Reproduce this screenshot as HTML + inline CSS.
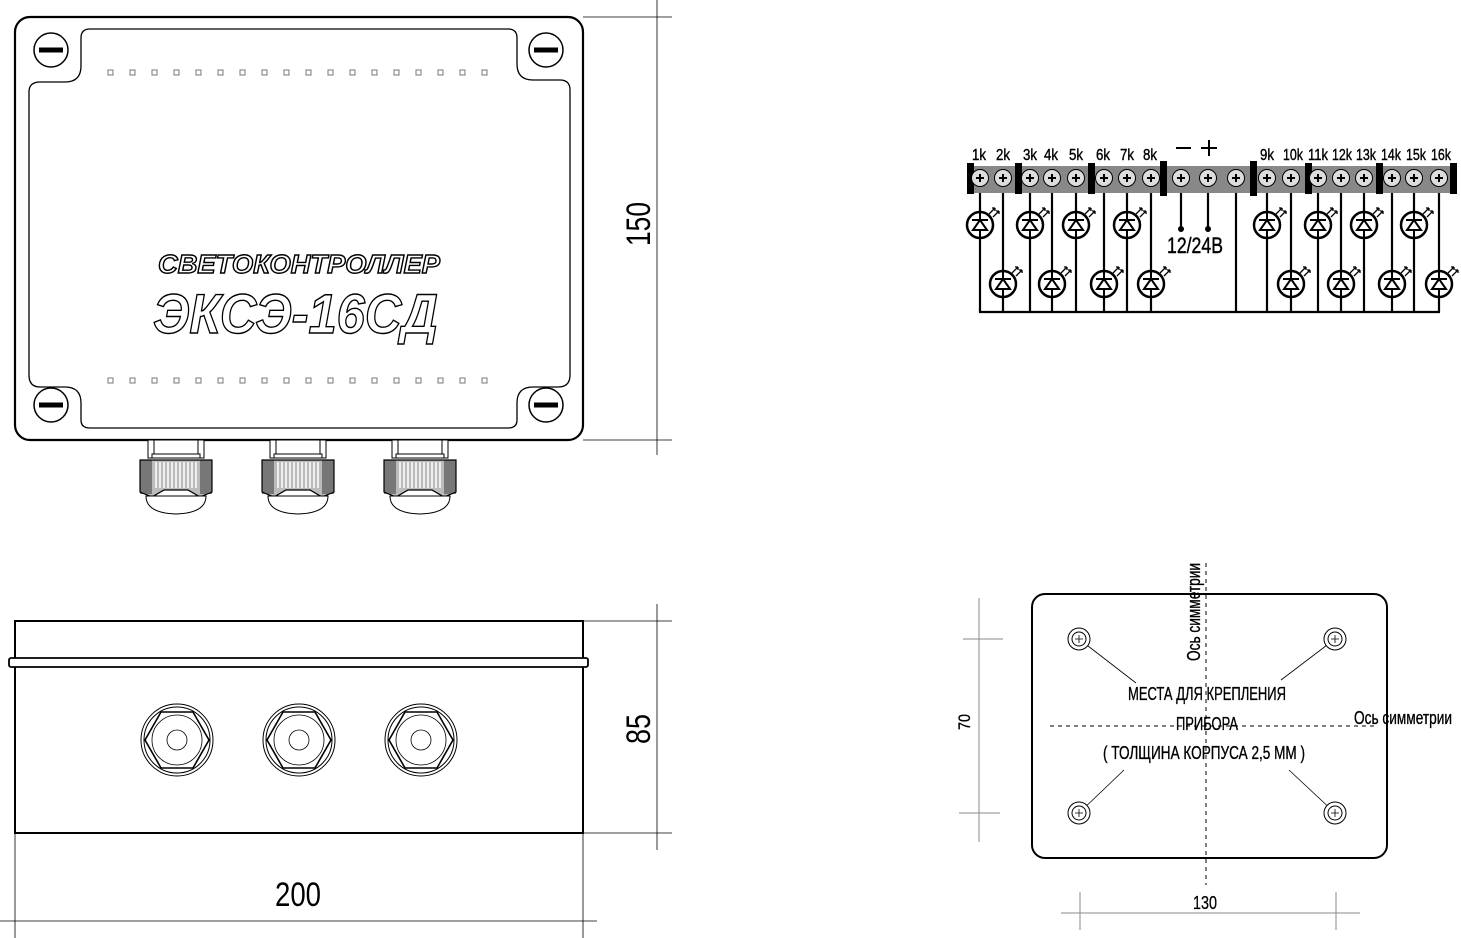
<!DOCTYPE html>
<html><head><meta charset="utf-8"><style>
html,body{margin:0;padding:0;background:#fff;}
svg{display:block;}
.t{font-family:"Liberation Sans Narrow","Liberation Sans","DejaVu Sans Condensed",sans-serif;}
</style></head><body>
<svg width="1461" height="938" viewBox="0 0 1461 938" xmlns="http://www.w3.org/2000/svg">
<defs>
  <g id="screw">
    <circle r="17" fill="#fff" stroke="#000" stroke-width="1.5"/>
    <rect x="-12" y="-2.5" width="24" height="5" fill="#000"/>
  </g>
  <g id="gland">
    <rect x="-28" y="0" width="56" height="18" fill="#fff" stroke="#000" stroke-width="1"/>
    <line x1="-22" y1="0" x2="-22" y2="14" stroke="#000"/>
    <line x1="22" y1="0" x2="22" y2="14" stroke="#000"/>
    <rect x="-24" y="14" width="48" height="4" fill="#fff" stroke="#000"/>
    <path d="M-36 20 L36 20 L36 52 L24 57 L12 50 L-12 50 L-24 57 L-36 52 Z" fill="#bbb" stroke="#000"/>
    <rect x="-36" y="20" width="12" height="34" fill="#777"/>
    <rect x="24" y="20" width="12" height="34" fill="#777"/>
    <path d="M-20 22 V48 M-16 22 V48 M-12 22 V48 M-8 22 V48 M-4 22 V48 M0 22 V48 M4 22 V48 M8 22 V48 M12 22 V48 M16 22 V48 M20 22 V48" stroke="#fff" stroke-width="1.5"/>
    <path d="M-36 20 L36 20 L36 52 L24 57 L12 50 L-12 50 L-24 57 L-36 52 Z" fill="none" stroke="#000" stroke-width="1.2"/>
    <path d="M-30 56 L30 56 Q30 73 0 74 Q-30 73 -30 56 Z" fill="#fff" stroke="#000"/>
  </g>
  <g id="sgland" fill="none" stroke="#000">
    <circle r="36" stroke-width="1"/>
    <circle r="33" stroke-width="1"/>
    <polygon points="-32,0 -16,-28 16,-28 32,0 16,28 -16,28" stroke-width="1.6"/>
    <circle r="25" stroke-width="0.8"/>
    <circle r="10" stroke-width="0.8"/>
  </g>
  <g id="term">
    <circle r="8.5" fill="#ddd" stroke="#000" stroke-width="1"/>
    <path d="M-4 0 H4 M0 -4 V4" stroke="#000" stroke-width="2"/>
  </g>
  <g id="led">
    <circle r="13" fill="#fff" stroke="#000" stroke-width="2.5"/>
    <line x1="0" y1="-13" x2="0" y2="13" stroke="#000" stroke-width="2"/>
    <polygon points="-7,5 7,5 0,-5" fill="#fff" stroke="#000" stroke-width="2"/>
    <line x1="-8" y1="-5" x2="8" y2="-5" stroke="#000" stroke-width="2"/>
    <path d="M9 -11 L15 -17 M13 -8 L19 -14 M15 -17 l-3 0 m3 0 l0 3 M19 -14 l-3 0 m3 0 l0 3" stroke="#000" stroke-width="1.3" fill="none"/>
  </g>
  <g id="hole">
    <circle r="11" fill="#fff" stroke="#000" stroke-width="1"/>
    <circle r="7" fill="none" stroke="#000" stroke-width="1"/>
    <path d="M-4 0 H4 M0 -4 V4" stroke="#000" stroke-width="0.8"/>
  </g>
</defs>

<!-- TOP VIEW -->
<rect x="15" y="17" width="568" height="423" rx="15" fill="#fff" stroke="#000" stroke-width="2.2"/>
<path d="M90 29 H508 Q517 29 517 38 V64 Q517 80 533 80 H560 Q570 80 570 90 V375 Q570 387 558 387 H533 Q517 387 517 403 V420 Q517 428 508 428 H90 Q81 428 81 420 V403 Q81 387 65 387 H40 Q29 387 29 375 V92 Q29 82 40 82 H65 Q81 82 81 66 V38 Q81 29 90 29 Z" fill="none" stroke="#000" stroke-width="1.3"/>
<use href="#screw" x="51" y="50"/>
<use href="#screw" x="546" y="50"/>
<use href="#screw" x="51" y="405"/>
<use href="#screw" x="546" y="405"/>
<g fill="#fff" stroke="#777" stroke-width="1">
<rect x="108" y="70" width="5" height="5"/><rect x="130" y="70" width="5" height="5"/><rect x="152" y="70" width="5" height="5"/><rect x="174" y="70" width="5" height="5"/><rect x="196" y="70" width="5" height="5"/><rect x="218" y="70" width="5" height="5"/><rect x="240" y="70" width="5" height="5"/><rect x="262" y="70" width="5" height="5"/><rect x="284" y="70" width="5" height="5"/><rect x="306" y="70" width="5" height="5"/><rect x="328" y="70" width="5" height="5"/><rect x="350" y="70" width="5" height="5"/><rect x="372" y="70" width="5" height="5"/><rect x="394" y="70" width="5" height="5"/><rect x="416" y="70" width="5" height="5"/><rect x="438" y="70" width="5" height="5"/><rect x="460" y="70" width="5" height="5"/><rect x="482" y="70" width="5" height="5"/>
<rect x="108" y="378" width="5" height="5"/><rect x="130" y="378" width="5" height="5"/><rect x="152" y="378" width="5" height="5"/><rect x="174" y="378" width="5" height="5"/><rect x="196" y="378" width="5" height="5"/><rect x="218" y="378" width="5" height="5"/><rect x="240" y="378" width="5" height="5"/><rect x="262" y="378" width="5" height="5"/><rect x="284" y="378" width="5" height="5"/><rect x="306" y="378" width="5" height="5"/><rect x="328" y="378" width="5" height="5"/><rect x="350" y="378" width="5" height="5"/><rect x="372" y="378" width="5" height="5"/><rect x="394" y="378" width="5" height="5"/><rect x="416" y="378" width="5" height="5"/><rect x="438" y="378" width="5" height="5"/><rect x="460" y="378" width="5" height="5"/><rect x="482" y="378" width="5" height="5"/>
</g>
<g class="t" font-weight="bold" font-style="italic" fill="#fff" stroke="#000" stroke-width="1.4">
<text x="158" y="273" font-size="26" textLength="282" lengthAdjust="spacingAndGlyphs">СВЕТОКОНТРОЛЛЕР</text>
<text x="153" y="333" font-size="56" textLength="285" lengthAdjust="spacingAndGlyphs">ЭКСЭ-16СД</text>
</g>
<use href="#gland" x="176" y="440"/>
<use href="#gland" x="298" y="440"/>
<use href="#gland" x="420" y="440"/>
<g stroke="#000" stroke-width="0.8">
<line x1="583" y1="17" x2="672" y2="17"/>
<line x1="583" y1="440" x2="672" y2="440"/>
<line x1="657" y1="0" x2="657" y2="455"/>
</g>
<text class="t" transform="translate(650,224) rotate(-90)" text-anchor="middle" font-size="34" textLength="44" lengthAdjust="spacingAndGlyphs">150</text>

<!-- SIDE VIEW -->
<rect x="15" y="621" width="568" height="212" fill="#fff" stroke="#000" stroke-width="2"/>
<rect x="9" y="658" width="579" height="9" rx="2" fill="#fff" stroke="#000" stroke-width="1.8"/>
<use href="#sgland" x="177" y="740"/>
<use href="#sgland" x="299" y="740"/>
<use href="#sgland" x="421" y="740"/>
<g stroke="#000" stroke-width="0.8">
<line x1="583" y1="621" x2="672" y2="621"/>
<line x1="583" y1="833" x2="672" y2="833"/>
<line x1="657" y1="604" x2="657" y2="850"/>
<line x1="15" y1="833" x2="15" y2="938"/>
<line x1="583" y1="833" x2="583" y2="938"/>
<line x1="0" y1="921" x2="597" y2="921"/>
</g>
<text class="t" transform="translate(650,729) rotate(-90)" text-anchor="middle" font-size="34" textLength="30" lengthAdjust="spacingAndGlyphs">85</text>
<text class="t" x="298" y="906" text-anchor="middle" font-size="34" textLength="46" lengthAdjust="spacingAndGlyphs">200</text>

<!-- WIRING -->
<g stroke="#000" stroke-width="2.2" fill="none">
<line x1="980" y1="192" x2="980" y2="312"/><line x1="1003" y1="192" x2="1003" y2="312"/>
<line x1="1030" y1="192" x2="1030" y2="312"/><line x1="1052" y1="192" x2="1052" y2="312"/>
<line x1="1076" y1="192" x2="1076" y2="312"/><line x1="1104" y1="192" x2="1104" y2="312"/>
<line x1="1127" y1="192" x2="1127" y2="312"/><line x1="1151" y1="192" x2="1151" y2="312"/>
<line x1="1236" y1="192" x2="1236" y2="312"/>
<line x1="1267" y1="192" x2="1267" y2="312"/><line x1="1291" y1="192" x2="1291" y2="312"/>
<line x1="1318" y1="192" x2="1318" y2="312"/><line x1="1341" y1="192" x2="1341" y2="312"/>
<line x1="1364" y1="192" x2="1364" y2="312"/><line x1="1392" y1="192" x2="1392" y2="312"/>
<line x1="1414" y1="192" x2="1414" y2="312"/><line x1="1439" y1="192" x2="1439" y2="312"/>
<line x1="979" y1="312" x2="1440" y2="312"/>
<line x1="1181" y1="192" x2="1181" y2="229"/><line x1="1208" y1="192" x2="1208" y2="229"/>
</g>
<circle cx="1181" cy="229" r="3" fill="#000"/><circle cx="1208" cy="229" r="3" fill="#000"/>
<rect x="967" y="166" width="490" height="27" fill="#888"/>
<g fill="#000">
<rect x="967" y="163" width="7" height="31"/><rect x="1015" y="163" width="7" height="31"/>
<rect x="1088" y="163" width="7" height="31"/><rect x="1160" y="161" width="7" height="35"/>
<rect x="1250" y="161" width="7" height="35"/><rect x="1305" y="163" width="7" height="31"/>
<rect x="1376" y="163" width="7" height="31"/><rect x="1450" y="163" width="7" height="31"/>
</g>
<use href="#term" x="980" y="178"/><use href="#term" x="1003" y="178"/><use href="#term" x="1030" y="178"/><use href="#term" x="1052" y="178"/>
<use href="#term" x="1076" y="178"/><use href="#term" x="1104" y="178"/><use href="#term" x="1127" y="178"/><use href="#term" x="1151" y="178"/>
<use href="#term" x="1181" y="178"/><use href="#term" x="1208" y="178"/><use href="#term" x="1236" y="178"/>
<use href="#term" x="1267" y="178"/><use href="#term" x="1291" y="178"/><use href="#term" x="1318" y="178"/><use href="#term" x="1341" y="178"/>
<use href="#term" x="1364" y="178"/><use href="#term" x="1392" y="178"/><use href="#term" x="1414" y="178"/><use href="#term" x="1439" y="178"/>
<use href="#led" x="980" y="225"/><use href="#led" x="1030" y="225"/><use href="#led" x="1076" y="225"/><use href="#led" x="1127" y="225"/>
<use href="#led" x="1003" y="284"/><use href="#led" x="1052" y="284"/><use href="#led" x="1104" y="284"/><use href="#led" x="1151" y="284"/>
<use href="#led" x="1267" y="225"/><use href="#led" x="1318" y="225"/><use href="#led" x="1364" y="225"/><use href="#led" x="1414" y="225"/>
<use href="#led" x="1291" y="284"/><use href="#led" x="1341" y="284"/><use href="#led" x="1392" y="284"/><use href="#led" x="1439" y="284"/>
<g class="t" font-size="16" text-anchor="middle" stroke="#000" stroke-width="0.4">
<text x="979" y="160" textLength="14" lengthAdjust="spacingAndGlyphs">1k</text><text x="1003" y="160" textLength="14" lengthAdjust="spacingAndGlyphs">2k</text><text x="1030" y="160" textLength="14" lengthAdjust="spacingAndGlyphs">3k</text><text x="1051" y="160" textLength="14" lengthAdjust="spacingAndGlyphs">4k</text>
<text x="1076" y="160" textLength="14" lengthAdjust="spacingAndGlyphs">5k</text><text x="1103" y="160" textLength="14" lengthAdjust="spacingAndGlyphs">6k</text><text x="1127" y="160" textLength="14" lengthAdjust="spacingAndGlyphs">7k</text><text x="1150" y="160" textLength="14" lengthAdjust="spacingAndGlyphs">8k</text>
<text x="1267" y="160" textLength="14" lengthAdjust="spacingAndGlyphs">9k</text><text x="1293" y="160" textLength="20" lengthAdjust="spacingAndGlyphs">10k</text><text x="1318" y="160" textLength="20" lengthAdjust="spacingAndGlyphs">11k</text><text x="1342" y="160" textLength="20" lengthAdjust="spacingAndGlyphs">12k</text>
<text x="1366" y="160" textLength="20" lengthAdjust="spacingAndGlyphs">13k</text><text x="1391" y="160" textLength="20" lengthAdjust="spacingAndGlyphs">14k</text><text x="1416" y="160" textLength="20" lengthAdjust="spacingAndGlyphs">15k</text><text x="1441" y="160" textLength="20" lengthAdjust="spacingAndGlyphs">16k</text>
</g>
<path d="M1176 148 H1191 M1201 148 H1217 M1209 140 V156" stroke="#000" stroke-width="2"/>
<text class="t" x="1195" y="253" text-anchor="middle" font-size="22" stroke="#000" stroke-width="0.4" textLength="56" lengthAdjust="spacingAndGlyphs">12/24В</text>

<!-- MOUNTING VIEW -->
<rect x="1032" y="594" width="355" height="264" rx="13" fill="#fff" stroke="#000" stroke-width="2"/>
<g stroke="#000" stroke-width="1" stroke-dasharray="4,4">
<line x1="1206" y1="563" x2="1206" y2="885"/>
<line x1="1050" y1="726" x2="1375" y2="726"/>
</g>
<g stroke="#000" stroke-width="0.8">
<line x1="1079" y1="639" x2="1136" y2="683"/>
<line x1="1335" y1="639" x2="1281" y2="680"/>
<line x1="1079" y1="813" x2="1124" y2="770"/>
<line x1="1335" y1="813" x2="1289" y2="770"/>
</g>
<use href="#hole" x="1079" y="639"/><use href="#hole" x="1335" y="639"/>
<use href="#hole" x="1079" y="813"/><use href="#hole" x="1335" y="813"/>
<g class="t" font-size="18" text-anchor="middle" stroke="#000" stroke-width="0.35">
<text x="1207" y="700" textLength="158" lengthAdjust="spacingAndGlyphs">МЕСТА ДЛЯ КРЕПЛЕНИЯ</text>
<text x="1207" y="730" textLength="62" lengthAdjust="spacingAndGlyphs">ПРИБОРА</text>
<text x="1204" y="759" textLength="202" lengthAdjust="spacingAndGlyphs">( ТОЛЩИНА КОРПУСА 2,5 ММ )</text>
<text x="1403" y="724" textLength="98" lengthAdjust="spacingAndGlyphs">Ось симметрии</text>
<text transform="translate(1200,612) rotate(-90)" textLength="98" lengthAdjust="spacingAndGlyphs">Ось симметрии</text>
</g>
<g stroke="#888" stroke-width="1">
<line x1="979" y1="598" x2="979" y2="842"/>
<line x1="963" y1="639" x2="1003" y2="639"/>
<line x1="959" y1="813" x2="1000" y2="813"/>
<line x1="1061" y1="913" x2="1360" y2="913"/>
<line x1="1080" y1="892" x2="1080" y2="930"/>
<line x1="1336" y1="892" x2="1336" y2="930"/>
</g>
<text class="t" transform="translate(970,722) rotate(-90)" text-anchor="middle" font-size="17" stroke="#000" stroke-width="0.3" textLength="16" lengthAdjust="spacingAndGlyphs">70</text>
<text class="t" x="1205" y="909" text-anchor="middle" font-size="18" stroke="#000" stroke-width="0.3" textLength="24" lengthAdjust="spacingAndGlyphs">130</text>
</svg>
</body></html>
